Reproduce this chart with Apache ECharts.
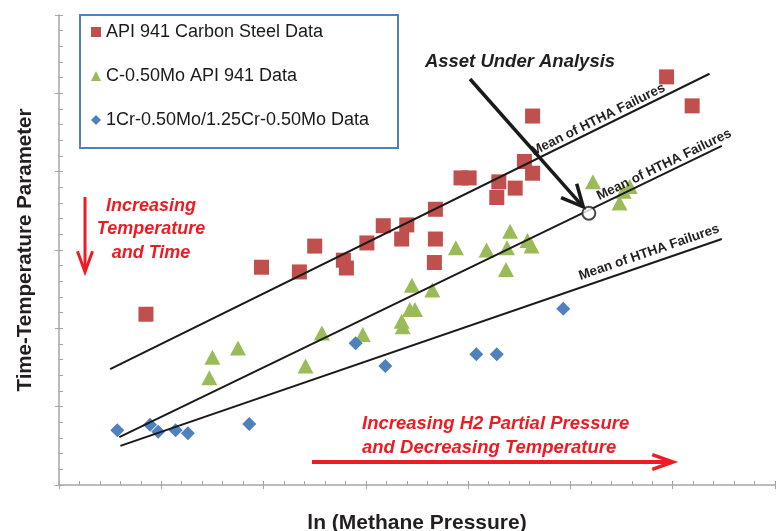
<!DOCTYPE html>
<html><head><meta charset="utf-8">
<script src="https://cdn.jsdelivr.net/npm/echarts@6/dist/echarts.min.js"></script>
<style>html,body{margin:0;padding:0;background:#fff}#c{width:781px;height:531px}</style>
</head><body><div id="c"></div>
<script>
// ---- data (x: ln(methane pressure), y: time-temperature parameter; arbitrary units) ----
const seriesNames = ['API 941 Carbon Steel Data', 'C-0.50Mo API 941 Data', '1Cr-0.50Mo/1.25Cr-0.50Mo Data'];
const carbonSteel = [[0.85,2.18],[1.98,2.78],[2.35,2.72],[2.50,3.05],[2.78,2.87],[2.81,2.77],[3.01,3.09],[3.17,3.31],[3.35,3.14],[3.40,3.32],[3.68,3.52],[3.68,3.14],[3.67,2.84],[3.93,3.92],[4.01,3.92],[4.28,3.67],[4.30,3.87],[4.46,3.79],[4.55,4.13],[4.63,3.98],[4.63,4.71],[5.94,5.21],[6.19,4.84]];
const cMo = [[1.47,1.37],[1.50,1.63],[1.75,1.75],[2.41,1.52],[2.57,1.94],[2.97,1.92],[3.35,2.09],[3.36,2.02],[3.43,2.24],[3.48,2.24],[3.45,2.55],[3.65,2.49],[3.88,3.03],[4.18,3.00],[4.38,3.03],[4.41,3.24],[4.37,2.75],[4.58,3.12],[4.62,3.05],[5.22,3.87],[5.48,3.60],[5.52,3.75],[5.58,3.81]];
const crMo = [[0.57,0.70],[0.89,0.77],[0.97,0.68],[1.14,0.70],[1.26,0.66],[1.86,0.78],[2.90,1.81],[3.19,1.52],[4.08,1.67],[4.28,1.67],[4.93,2.25]];
const meanLineUpper = [[0.50,1.48],[6.36,5.25]];
const meanLineMiddle = [[0.59,0.61],[6.48,4.33]];
const meanLineLower = [[0.60,0.50],[6.48,3.14]];
const assetPoint = [[5.18,3.47]];
const meanLabel = 'Mean of HTHA Failures';
const xName = 'ln (Methane Pressure)';
const yName = 'Time-Temperature Parameter';

const chart = echarts.init(document.getElementById('c'), null, {renderer: 'canvas'});
const AX = '#a6a6a6';
const FONT = '"Liberation Sans", Arial, sans-serif';
const RED = '#ed1c24';

function axisPair(isX) {
  const base = {
    type: 'value', min: 0, max: isX ? 7 : 6, interval: 1,
    axisLabel: {show: false}, splitLine: {show: false}
  };
  const a = Object.assign({}, base, {
    axisLine: {show: true, lineStyle: {color: AX, width: 1.5}},
    axisTick: {show: true, inside: true, length: 4, lineStyle: {color: AX, width: 1}},
    minorTick: {show: true, splitNumber: 5, length: 4, lineStyle: {color: AX, width: 1}},
    name: isX ? xName : yName,
    nameLocation: 'middle',
    nameGap: isX ? 28 : 23,
    nameTextStyle: {fontFamily: FONT, fontWeight: 'bold', fontSize: isX ? 21 : 20.5, color: '#231f20'}
  });
  const b = Object.assign({}, base, {
    position: isX ? 'bottom' : 'left', offset: 0,
    axisLine: {show: false},
    axisTick: {show: true, inside: false, length: 4, lineStyle: {color: AX, width: 1}},
    minorTick: {show: false}
  });
  return [a, b];
}

const option = {
  animation: false,
  backgroundColor: '#fff',
  grid: {left: 59, right: 6, top: 15, bottom: 46, containLabel: false, outerBoundsMode: 'none'},
  xAxis: axisPair(true),
  yAxis: axisPair(false),
  legend: {
    orient: 'vertical', left: 86, top: 18, itemGap: 26,
    itemWidth: 10, itemHeight: 10, z: 10,
    textStyle: {fontFamily: FONT, fontSize: 18, color: '#1a1a1a', lineHeight: 18},
    data: [
      {name: seriesNames[0], icon: 'rect'},
      {name: seriesNames[1], icon: 'triangle'},
      {name: seriesNames[2], icon: 'diamond'}
    ]
  },
  series: [
    {name: seriesNames[0], type: 'scatter', data: carbonSteel, symbol: 'rect', symbolSize: 15,
     itemStyle: {color: '#c0504d', opacity: 1}, z: 2},
    {name: seriesNames[1], type: 'scatter', data: cMo, symbol: 'triangle', symbolSize: [16, 15],
     itemStyle: {color: '#9bbb59', opacity: 1}, z: 2},
    {name: seriesNames[2], type: 'scatter', data: crMo, symbol: 'diamond', symbolSize: 14,
     itemStyle: {color: '#4f81bd', opacity: 1}, z: 2},
    {type: 'line', data: meanLineUpper, symbol: 'none', lineStyle: {color: '#1a1a1a', width: 2}, z: 3, silent: true},
    {type: 'line', data: meanLineMiddle, symbol: 'none', lineStyle: {color: '#1a1a1a', width: 2}, z: 3, silent: true},
    {type: 'line', data: meanLineLower, symbol: 'none', lineStyle: {color: '#1a1a1a', width: 2}, z: 3, silent: true},
    {type: 'scatter', data: assetPoint, symbol: 'circle', symbolSize: 13,
     itemStyle: {color: '#fff', borderColor: '#1a1a1a', borderWidth: 2}, z: 4, silent: true}
  ]
};
chart.setOption(option);

// ---- annotations positioned from the data through the chart's scales ----
const px = p => chart.convertToPixel({gridIndex: 0}, p);

function lineLabel(line, t, off) {
  const a = px(line[0]), b = px(line[1]);
  const dx = b[0] - a[0], dy = b[1] - a[1];
  const L = Math.hypot(dx, dy);
  const nx = dy / L, ny = -dx / L; // normal pointing up
  const cx = a[0] + dx * t + nx * off, cy = a[1] + dy * t + ny * off;
  return {
    type: 'text', x: cx, y: cy, rotation: -Math.atan2(dy, dx), z: 20,
    style: {text: meanLabel, fontFamily: FONT, fontWeight: 'bold', fontSize: 13.5,
            fill: '#231f20', align: 'center', verticalAlign: 'middle'}
  };
}

function chevron(tip, from, len, half, color, width) {
  const ang = Math.atan2(tip[1] - from[1], tip[0] - from[0]);
  const p1 = [tip[0] - len * Math.cos(ang - half), tip[1] - len * Math.sin(ang - half)];
  const p2 = [tip[0] - len * Math.cos(ang + half), tip[1] - len * Math.sin(ang + half)];
  return {type: 'polyline', z: 20, shape: {points: [p1, tip, p2]},
          style: {stroke: color, lineWidth: width, fill: null, lineJoin: 'miter'}};
}

const asset = px(assetPoint[0]);
const arrowStart = [470, 79];
const adir = Math.atan2(asset[1] - arrowStart[1], asset[0] - arrowStart[0]);
const arrowTip = [asset[0] - 8.5 * Math.cos(adir), asset[1] - 8.5 * Math.sin(adir)];

const downStart = [85, 197], downTip = [85, 272];
const rightStart = [312, 462], rightTip = [673, 462];

chart.setOption({
  graphic: [
    {type: 'rect', z: 1, shape: {x: 80, y: 15, width: 318, height: 133},
     style: {fill: '#fff', stroke: '#4f81bd', lineWidth: 2}},
    lineLabel(meanLineUpper, 0.82, 8),
    lineLabel(meanLineMiddle, 0.91, 8),
    lineLabel(meanLineLower, 0.885, 11),
    {type: 'text', x: 520, y: 62, z: 20,
     style: {text: 'Asset Under Analysis', fontFamily: FONT, fontWeight: 'bold', fontStyle: 'italic',
             fontSize: 18.5, fill: '#231f20', align: 'center', verticalAlign: 'middle'}},
    {type: 'line', z: 20, shape: {x1: arrowStart[0], y1: arrowStart[1], x2: arrowTip[0], y2: arrowTip[1]},
     style: {stroke: '#1a1a1a', lineWidth: 3.5}},
    chevron(arrowTip, arrowStart, 24, 0.45, '#1a1a1a', 3.5),
    {type: 'text', x: 151, y: 194, z: 20,
     style: {text: 'Increasing\nTemperature\nand Time', fontFamily: FONT, fontWeight: 'bold', fontStyle: 'italic',
             fontSize: 18, lineHeight: 23.5, fill: RED, align: 'center', verticalAlign: 'top'}},
    {type: 'line', z: 20, shape: {x1: downStart[0], y1: downStart[1], x2: downTip[0], y2: downTip[1] - 2},
     style: {stroke: RED, lineWidth: 3}},
    chevron(downTip, downStart, 22, 0.35, RED, 3),
    {type: 'text', x: 362, y: 436, z: 20,
     style: {text: 'Increasing H2 Partial Pressure\nand Decreasing Temperature', fontFamily: FONT, fontWeight: 'bold',
             fontStyle: 'italic', fontSize: 18.5, lineHeight: 24, fill: RED, align: 'left', verticalAlign: 'middle'}},
    {type: 'line', z: 20, shape: {x1: rightStart[0], y1: rightStart[1], x2: rightTip[0] - 2, y2: rightTip[1]},
     style: {stroke: RED, lineWidth: 4}},
    chevron(rightTip, rightStart, 22, 0.34, RED, 3.5)
  ]
});
</script>
</body></html>
